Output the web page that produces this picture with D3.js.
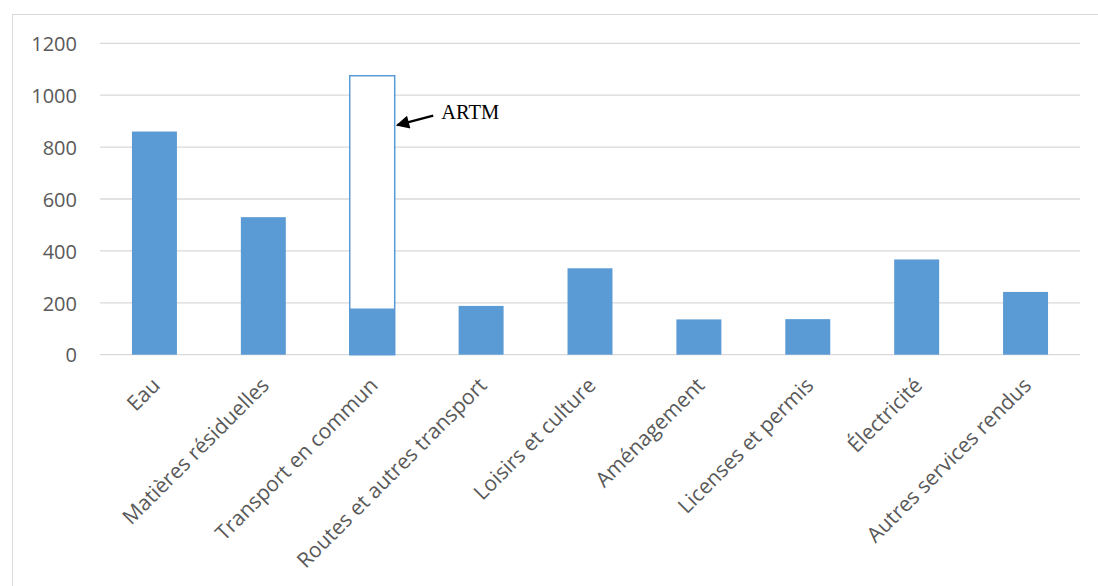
<!DOCTYPE html>
<html>
<head>
<meta charset="utf-8">
<script src="https://cdn.jsdelivr.net/npm/d3@7"></script>
<style>
  html, body { margin: 0; padding: 0; background: #fff; }
  svg { display: block; }
</style>
</head>
<body>
<svg id="chart" width="1098" height="586"></svg>
<script>
// Revenue categories and amounts
const categories = [
  "Eau", "Matières résiduelles", "Transport en commun", "Routes et autres transport",
  "Loisirs et culture", "Aménagement", "Licenses et permis", "Électricité",
  "Autres services rendus"
];
const values = [860, 530, 178, 188, 333, 136, 137, 367, 242];
// Additional amount (ARTM) stacked on top of public transit
const artmCategory = "Transport en commun";
const artmTotal = 1075;
const yTicks = [0, 200, 400, 600, 800, 1000, 1200];

const svg = d3.select("#chart");
const W = 1098, H = 586;
const margin = { left: 100, right: 18, top: 43.3, bottom: 231.3 };
const plotW = W - margin.left - margin.right;
const plotH = H - margin.top - margin.bottom;
const labelFont = "'Open Sans', Calibri, sans-serif";

// outer frame
svg.append("rect")
  .attr("x", 12.5).attr("y", 14.5)
  .attr("width", 1100).attr("height", 600)
  .attr("fill", "none").attr("stroke", "#d9d9d9").attr("stroke-width", 1);

const g = svg.append("g").attr("transform", `translate(${margin.left},${margin.top})`);

const x = d3.scaleBand().domain(categories).range([0, plotW]).padding(0);
const y = d3.scaleLinear().domain([0, 1200]).range([plotH, 0]);
const barW = x.bandwidth() * 0.413;

// gridlines
g.append("g")
  .selectAll("line")
  .data(yTicks)
  .join("line")
  .attr("x1", 0).attr("x2", plotW)
  .attr("y1", d => y(d)).attr("y2", d => y(d))
  .attr("stroke", "#d9d9d9").attr("stroke-width", 1.3);

// y axis labels
const yAxis = d3.axisLeft(y).tickValues(yTicks).tickFormat(d3.format("d"))
  .tickSize(0).tickPadding(23);
const ya = g.append("g").call(yAxis);
ya.select(".domain").remove();
ya.attr("font-size", null).attr("font-family", null);
ya.selectAll("text")
  .attr("fill", "#595959")
  .attr("dy", "0.36em")
  .style("font-family", labelFont)
  .style("font-size", "20px");

const blue = "#5b9bd5";

// ARTM outlined bar
g.append("rect")
  .attr("x", x(artmCategory) + (x.bandwidth() - barW) / 2)
  .attr("y", y(artmTotal))
  .attr("width", barW)
  .attr("height", y(0) - y(artmTotal))
  .attr("fill", "#fff").attr("stroke", blue).attr("stroke-width", 1.5);

// bars
g.append("g")
  .selectAll("rect")
  .data(categories.map((c, i) => ({ c, v: values[i] })))
  .join("rect")
  .attr("x", d => x(d.c) + (x.bandwidth() - barW) / 2)
  .attr("y", d => y(d.v))
  .attr("width", barW)
  .attr("height", d => y(0) - y(d.v))
  .attr("fill", blue);

// x axis labels (rotated)
const xa = g.append("g").attr("transform", `translate(0,${plotH})`)
  .call(d3.axisBottom(x).tickSize(0).tickPadding(0));
xa.select(".domain").remove();
xa.attr("font-size", null).attr("font-family", null);
xa.selectAll("text")
  .attr("fill", "#595959")
  .style("font-family", labelFont)
  .style("font-size", "21px")
  .attr("text-anchor", "end")
  .attr("dy", "0")
  .attr("transform", "translate(7,32) rotate(-45)");

// ARTM annotation arrow
const tipX = x(artmCategory) + (x.bandwidth() + barW) / 2 + 2.5;
const tipY = y(885);
svg.append("defs").append("marker")
  .attr("id", "ah").attr("viewBox", "0 0 10 10")
  .attr("refX", 9).attr("refY", 5)
  .attr("markerWidth", 6.5).attr("markerHeight", 5.5)
  .attr("markerUnits", "strokeWidth")
  .attr("orient", "auto")
  .append("path").attr("d", "M0,0 L10,5 L0,10 Z").attr("fill", "#000");
g.append("line")
  .attr("x1", tipX + 36).attr("y1", tipY - 9.5)
  .attr("x2", tipX).attr("y2", tipY)
  .attr("stroke", "#000").attr("stroke-width", 2.4)
  .attr("marker-end", "url(#ah)");
g.append("text")
  .attr("x", tipX + 44).attr("y", tipY - 6)
  .style("font-family", "'Liberation Serif', 'Times New Roman', serif")
  .style("font-size", "20.5px")
  .attr("fill", "#000")
  .text("ARTM");
</script>
</body>
</html>
